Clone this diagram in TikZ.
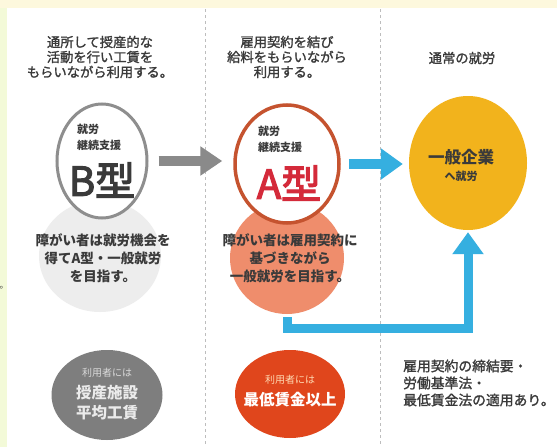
\documentclass[tikz,border=0pt]{standalone}
\usepackage{fontspec}
\setmainfont{Noto Sans CJK JP}
\newfontfamily\jpmid{Noto Sans CJK JP}[FakeBold=1.5]
\newfontfamily\jpbig{Noto Sans CJK JP}[FakeBold=3]
\usetikzlibrary{shapes.geometric,arrows.meta,positioning}

\definecolor{inkgray}{HTML}{3A3A3A}
\definecolor{rulegray}{HTML}{BDBDBD}
\definecolor{bandyellow}{HTML}{FDF8DD}
\definecolor{bandlime}{HTML}{F3FAD8}
\definecolor{typeBgray}{HTML}{8E8E8E}
\definecolor{arrowgray}{HTML}{8A8A8A}
\definecolor{blobgray}{HTML}{EDEDED}
\definecolor{typeAring}{HTML}{C5532F}
\definecolor{typeAred}{HTML}{D42A3A}
\definecolor{blobsalmon}{HTML}{EF8D6C}
\definecolor{flowcyan}{HTML}{35AFE0}
\definecolor{jobyellow}{HTML}{F2B31C}
\definecolor{wagegray}{HTML}{7E7E7E}
\definecolor{wagered}{HTML}{E0461C}

\begin{document}
\begin{tikzpicture}[x=1pt,y=-1pt,
  body/.style={text=inkgray,align=center,inner sep=0pt,font=\jpmid\fontsize{13.3}{15}\selectfont},
  note/.style={text=inkgray,align=center,inner sep=0pt,font=\bfseries\fontsize{13.5}{18}\selectfont},
  ring/.style={ellipse,fill=white,line width=3pt,inner sep=0pt},
  blob/.style={ellipse,inner sep=0pt},
  small/.style={text=inkgray,inner sep=0pt,anchor=west,font=\bfseries\fontsize{11}{13}\selectfont},
  big/.style={inner sep=0pt,font=\jpbig\fontsize{40}{40}\selectfont},
  fat/.style={line width=10pt}]

\useasboundingbox (0,0) rectangle (557,447);
\fill[white] (0,0) rectangle (557,447);
\fill[bandyellow] (0,0) rectangle (557,8);
\fill[bandlime] (0,8) rectangle (7,447);
\node[inner sep=0pt,anchor=west,text=inkgray,font=\fontsize{9}{9}\selectfont] (stray) at (-0.5,288) {。};

% dashed column rules
\foreach \sx in {205,380}
  \draw[rulegray,dashed,line width=0.8pt] (\sx,9) -- (\sx,447);

% column headings
\node[body] (leadB) at (100,57) {通所して授産的な\\活動を行い工賃を\\もらいながら利用する。};
\node[body] (leadA) at (287,57) {雇用契約を結び\\給料をもらいながら\\利用する。};
\node[body] (leadJob) at (462,58) {通常の就労};

% blobs behind the rings
\node[blob,fill=blobgray,minimum width=122,minimum height=112] (blobB) at (100,256) {};
\node[blob,fill=blobsalmon,minimum width=114,minimum height=112] (blobA) at (287,258) {};

% B ring
\node[ring,draw=typeBgray,minimum width=90,minimum height=114] (ringB) at (102,161) {};
\node[small] (ringBtop) at (77,129) {就労};
\node[small] (ringBmid) at (77,145) {継続支援};
\node[big,text=inkgray] (ringBtype) at (102,180) {B型};

% A ring
\node[ring,draw=typeAring,line width=3.5pt,minimum width=104,minimum height=118] (ringA) at (287,164) {};
\node[small] (ringAtop) at (258,131) {就労};
\node[small] (ringAmid) at (258,147) {継続支援};
\node[big,text=typeAred] (ringAtype) at (289,183) {A型};

% notes on the blobs
\node[note] (noteB) at (103,258) {障がい者は就労機会を\\得てA型・一般就労\\を目指す。};
\node[note] (noteA) at (290,258) {障がい者は雇用契約に\\基づきながら\\一般就労を目指す。};

% general job
\node[blob,fill=jobyellow,minimum width=118,minimum height=134] (job) at (468,163) {};
\node[text=inkgray,inner sep=0pt,font=\bfseries\fontsize{16.5}{16.5}\selectfont] (jobmain) at (461,157) {一般企業};
\node[text=inkgray,inner sep=0pt,font=\bfseries\fontsize{11}{11}\selectfont] (jobsub) at (461,176) {へ就労};

% arrows
\draw[fat,arrowgray,-{Triangle[width=28pt,length=22pt]},shorten <=10pt,shorten >=11pt]
  (ringB.east) -- (ringB.east -| ringA.west);
\draw[fat,flowcyan,-{Triangle[width=30pt,length=22pt]},shorten <=8pt,shorten >=6pt]
  (ringA.east) -- (ringA.east -| job.west);
\path (blobA.south) ++(0,14) coordinate (loopturn);
\draw[line width=9pt,flowcyan,-{Triangle[width=30pt,length=22pt]}]
  ([yshift=-3pt]blobA.south) -- (loopturn) -| ([yshift=-2pt]job.south);

% wage ovals
\node[blob,fill=wagegray,minimum width=111,minimum height=90] (wageB) at (107,395) {};
\node[inner sep=0pt,text=white!85!black,font=\fontsize{10}{10}\selectfont] (wageBtop) at (107,373) {利用者には};
\node[inner sep=0pt,text=white!92!black,align=center,font=\bfseries\fontsize{15.5}{20}\selectfont] (wageBmain) at (107,403) {授産施設\\平均工賃};

\node[blob,fill=wagered,minimum width=110,minimum height=88] (wageA) at (290,394) {};
\node[inner sep=0pt,text=orange!30!white,font=\fontsize{10}{10}\selectfont] (wageAtop) at (290,380) {利用者には};
\node[inner sep=0pt,text=white,font=\bfseries\fontsize{15.5}{15.5}\selectfont] (wageAmain) at (290,400) {最低賃金以上};

% law note
\node[body,align=left,anchor=west,font=\jpmid\fontsize{13.8}{17}\selectfont] (lawnote) at (403,383) {雇用契約の締結要・\\労働基準法・\\最低賃金法の適用あり。};

\end{tikzpicture}
\end{document}
